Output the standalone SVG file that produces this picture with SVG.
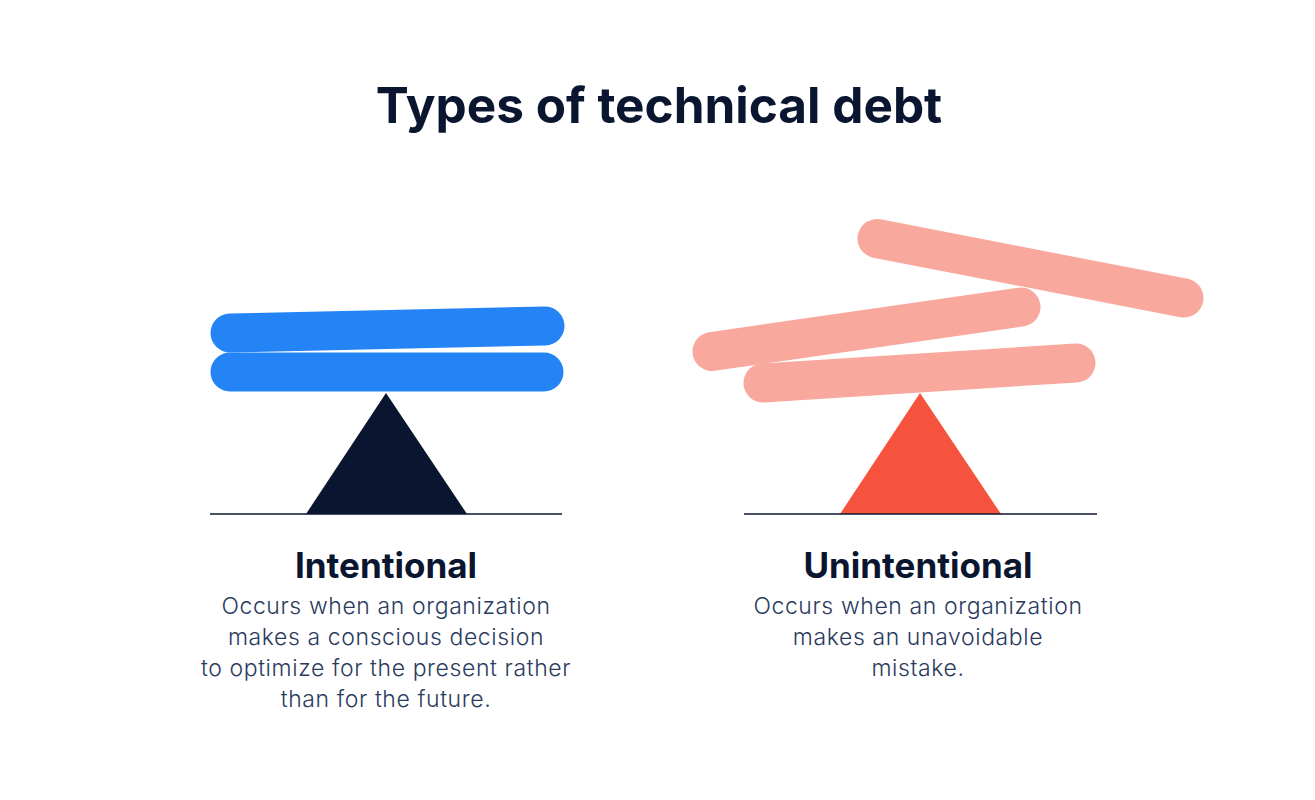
<svg xmlns="http://www.w3.org/2000/svg" width="1315" height="800" viewBox="0 0 1315 800">
<style>
.title{font-family:Inter,"Noto Sans",sans-serif;font-weight:700;font-size:49.5px;fill:#0A1630;text-anchor:middle}
.head{font-family:Inter,"Noto Sans",sans-serif;font-weight:700;font-size:35px;fill:#0A1630;text-anchor:middle}
.body{font-family:Inter,"Noto Sans",sans-serif;font-weight:300;font-size:23px;letter-spacing:0.6px;fill:#2B3B5E;text-anchor:middle}
.blue{stroke:#2484F6;stroke-width:39;stroke-linecap:round;fill:none}
.pink{stroke:#F8A89C;stroke-width:39;stroke-linecap:round;fill:none}
.ground{stroke:#0A1630;stroke-width:1.5}
</style>
<rect width="1315" height="800" fill="#ffffff"/>
<text class="title" x="659" y="123">Types of technical debt</text>
<g id="intentional">
<line class="blue" x1="230" y1="333" x2="545" y2="326"/>
<line class="blue" x1="230" y1="372" x2="544" y2="372"/>
<polygon points="386,393 306,514 467,514" fill="#0A1630"/>
<line class="ground" x1="210" y1="514" x2="562" y2="514"/>
<text class="head" x="386" y="578">Intentional</text>
<text class="body" x="386" y="614">Occurs when an organization</text>
<text class="body" x="386" y="645">makes a conscious decision</text>
<text class="body" x="386" y="676">to optimize for the present rather</text>
<text class="body" x="386" y="707">than for the future.</text>
</g>
<g id="unintentional">
<line class="pink" x1="877" y1="238.5" x2="1184" y2="298"/>
<line class="pink" x1="712" y1="351.5" x2="1021" y2="307"/>
<line class="pink" x1="763" y1="383" x2="1076" y2="363"/>
<polygon points="920,393 840,514 1001,514" fill="#F5533D"/>
<line class="ground" x1="744" y1="514" x2="1097" y2="514"/>
<text class="head" x="918" y="578">Unintentional</text>
<text class="body" x="918" y="614">Occurs when an organization</text>
<text class="body" x="918" y="645">makes an unavoidable</text>
<text class="body" x="918" y="676">mistake.</text>
</g>
<g id="connectors"/>
</svg>
